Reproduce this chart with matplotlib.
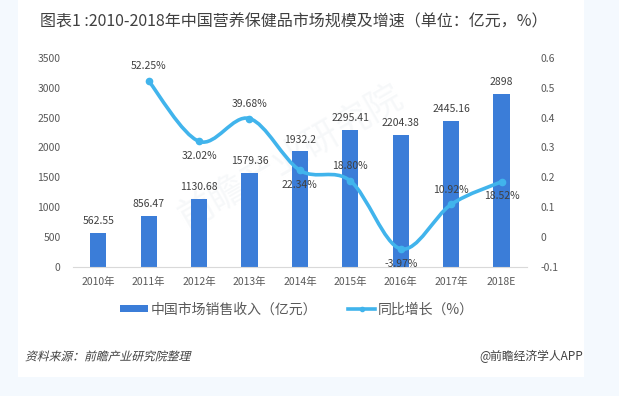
import numpy as np
import matplotlib
matplotlib.use("Agg")
from matplotlib import pyplot as plt
from matplotlib.path import Path
from matplotlib.patches import PathPatch, Rectangle
from matplotlib.lines import Line2D
from matplotlib.textpath import TextPath
from matplotlib.font_manager import FontProperties
from matplotlib.transforms import Affine2D

plt.rcParams['font.family'] = ['Noto Sans CJK SC', 'DejaVu Sans']

# data
years = ['2010年', '2011年', '2012年', '2013年', '2014年', '2015年', '2016年', '2017年', '2018E']
revenue = [562.55, 856.47, 1130.68, 1579.36, 1932.2, 2295.41, 2204.38, 2445.16, 2898]
growth = [0.5225, 0.3202, 0.3968, 0.2234, 0.1880, -0.0397, 0.1092, 0.1852]   # 2011 - 2018E
growth_labels = ['52.25%', '32.02%', '39.68%', '22.34%', '18.80%', '-3.97%', '10.92%', '18.52%']
label_side = [1, -1, 1, -1, 1, -1, 1, -1]   # above / below the point

bar_color = '#3b7dd8'
line_color = '#41b4ec'
text_color = '#404040'
tick_color = '#595959'

fig = plt.figure(figsize=(6.19, 3.96), dpi=100)
fig.patch.set_facecolor('#f4f9fe')
fig.patches.append(Rectangle((0.029, 0.048), 0.914, 0.952, transform=fig.transFigure,
                             facecolor='white', edgecolor='none', zorder=-5))

# faint watermark
fig.text(0.47, 0.6, '前瞻产业研究院', fontsize=26, color='#e4e9ee', alpha=0.3,
         rotation=30, ha='center', va='center', zorder=-1)

ax = fig.add_axes([0.118, 0.326, 0.733, 0.528])
ax.set_facecolor('none')
x = np.arange(len(years))
ax.bar(x, revenue, width=0.32, color=bar_color, zorder=2)
for xi, v in zip(x, revenue):
    ax.annotate(f'{v:g}', (xi, v), xytext=(0, 5), textcoords='offset points',
                ha='center', va='bottom', fontsize=7.5, color=text_color, zorder=5)

ax.set_ylim(0, 3500)
ax.set_xlim(-0.5, len(years) - 0.5)
ax.set_yticks(np.arange(0, 3501, 500))
ax.set_xticks(x)
ax.set_xticklabels(years)
ax.tick_params(axis='both', length=0, labelsize=7.5, labelcolor=tick_color)
ax.tick_params(axis='x', pad=7)
ax.tick_params(axis='y', pad=9)
for s in ['top', 'left', 'right']:
    ax.spines[s].set_visible(False)
ax.spines['bottom'].set_color('#d9d9d9')

ax2 = ax.twinx()
ax2.set_ylim(-0.1, 0.6)
ax2.set_yticks(np.arange(-0.1, 0.61, 0.1))
ax2.set_yticklabels(['-0.1', '0', '0.1', '0.2', '0.3', '0.4', '0.5', '0.6'])
ax2.tick_params(axis='y', length=0, labelsize=7.5, labelcolor=tick_color, pad=10)
for s in ax2.spines.values():
    s.set_visible(False)

# smoothed line (Catmull-Rom style bezier, like the office "smooth line")
gx = x[1:].astype(float)
gy = np.array(growth)
pts = np.column_stack([gx, gy])
ext = np.vstack([pts[0], pts, pts[-1]])
verts = [tuple(pts[0])]
codes = [Path.MOVETO]
for i in range(len(pts) - 1):
    p0, p1, p2, p3 = ext[i], ext[i + 1], ext[i + 2], ext[i + 3]
    c1 = p1 + (p2 - p0) / 6
    c2 = p2 - (p3 - p1) / 6
    verts += [tuple(c1), tuple(c2), tuple(p2)]
    codes += [Path.CURVE4] * 3
ax2.add_patch(PathPatch(Path(verts, codes), facecolor='none', edgecolor=line_color,
                        lw=2.6, capstyle='round', joinstyle='round', zorder=3))
ax2.plot(gx, gy, 'o', color=line_color, ms=4.5, zorder=4)
for xi, v, lab, side in zip(gx, gy, growth_labels, label_side):
    ax2.annotate(lab, (xi, v), xytext=(0, 7 * side), textcoords='offset points',
                 ha='center', va='bottom' if side > 0 else 'top',
                 fontsize=7.5, color=text_color, zorder=5)

fig.text(0.065, 0.945, '图表1 :2010-2018年中国营养保健品市场规模及增速（单位：亿元，%）',
         fontsize=11.5, weight='light', color=text_color, ha='left', va='center')

handles = [Rectangle((0, 0), 1, 1, facecolor=bar_color, edgecolor='none'),
           Line2D([], [], color=line_color, lw=2.6, marker='o', ms=3)]
fig.legend(handles, ['中国市场销售收入（亿元）', '同比增长（%）'], loc='center',
           bbox_to_anchor=(0.48, 0.218), ncol=2, frameon=False, fontsize=10,
           labelcolor=tick_color, handlelength=2.0, handleheight=0.45,
           handletextpad=0.2, columnspacing=2.2)

# source note, slanted like the reference (the CJK font has no italic face)
fp = FontProperties(family='Noto Sans CJK SC', size=8.5)
tp = TextPath((0, 0), '资料来源：前瞻产业研究院整理', prop=fp)
src_tf = Affine2D().skew_deg(14, 0).scale(100 / 72).translate(25, 396 * 0.1 - 4)
fig.patches.append(PathPatch(src_tf.transform_path(tp), facecolor=text_color,
                             edgecolor='none', transform=None, zorder=5))
fig.text(0.942, 0.1, '@前瞻经济学人APP', fontsize=8.5, color=text_color,
         ha='right', va='center')

fig.savefig('out.png', dpi=100, facecolor=fig.get_facecolor())
